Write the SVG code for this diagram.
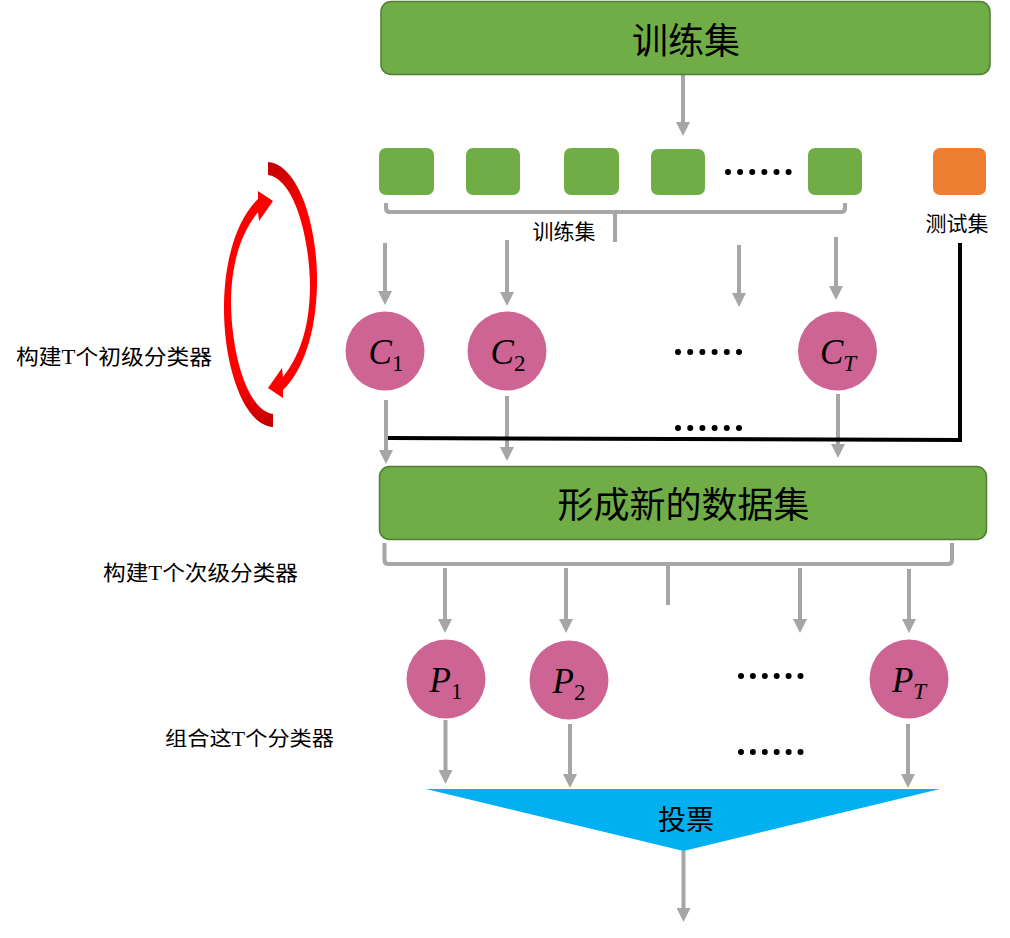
<svg xmlns="http://www.w3.org/2000/svg" width="1010" height="938" viewBox="0 0 1010 938">
<defs>
<style>
.box{fill:#70AD47;stroke:#507E32;stroke-width:1.5}
.sbox{fill:#70AD47}
.circ{fill:#CD6493}
.arr{stroke:#A6A6A6;stroke-width:4;fill:none;marker-end:url(#ah)}
.brk{stroke:#A6A6A6;stroke-width:4;fill:none}
.cjk{font-family:"Noto Sans CJK SC","Microsoft YaHei",sans-serif;fill:#000}
.ser{font-family:"Liberation Serif",serif}
.math{font-family:"Liberation Serif",serif;fill:#000}
.dot{fill:#000}
</style>
<marker id="ah" viewBox="0 0 14 14" refX="4" refY="7" markerWidth="14" markerHeight="14" markerUnits="userSpaceOnUse" orient="auto">
<path d="M0,0 L14,7 L0,14 z" fill="#A6A6A6"/>
</marker>
<linearGradient id="rg1" x1="0" y1="0" x2="0" y2="1">
<stop offset="0" stop-color="#C00000"/>
<stop offset="0.2" stop-color="#FF0000"/>
<stop offset="1" stop-color="#FF0000"/>
</linearGradient>
<linearGradient id="rg2" x1="0" y1="1" x2="0" y2="0">
<stop offset="0" stop-color="#C00000"/>
<stop offset="0.2" stop-color="#FF0000"/>
<stop offset="1" stop-color="#FF0000"/>
</linearGradient>
</defs>
<rect width="1010" height="938" fill="#fff"/>

<g id="connectors">
<line class="arr" x1="683" y1="75" x2="683" y2="126"/>
<path class="brk" d="M386,203 L386,208 Q386,212 390,212 L841,212 Q845,212 845,208 L845,203 M615,212 L615,242"/>
<line class="arr" x1="385" y1="243" x2="385" y2="295"/>
<line class="arr" x1="507" y1="240" x2="507" y2="296"/>
<line class="arr" x1="739" y1="245" x2="739" y2="297"/>
<line class="arr" x1="836" y1="237" x2="836" y2="290"/>
<line class="arr" x1="386" y1="400" x2="386" y2="454"/>
<line class="arr" x1="507" y1="396" x2="507" y2="451"/>
<line class="arr" x1="838" y1="394" x2="838" y2="448"/>
<polyline points="960,243 960,440 388,438" fill="none" stroke="#000" stroke-width="4"/>
<path class="brk" d="M384.5,543 L384.5,560 Q384.5,564 388.5,564 L948,564 Q952,564 952,560 L952,543 M668,564 L668,605"/>
<line class="arr" x1="445" y1="568" x2="445" y2="623"/>
<line class="arr" x1="566" y1="568" x2="566" y2="623"/>
<line class="arr" x1="800" y1="568" x2="800" y2="623"/>
<line class="arr" x1="909" y1="569" x2="909" y2="623"/>
<line class="arr" x1="445.5" y1="720" x2="445.5" y2="774"/>
<line class="arr" x1="570" y1="724" x2="570" y2="778"/>
<line class="arr" x1="908" y1="724" x2="908" y2="778"/>
<line class="arr" x1="683.5" y1="851" x2="683.5" y2="912"/>
</g>

<g id="train-top">
<rect class="box" x="381" y="1.5" width="609" height="73" rx="10"/>
<text class="cjk" x="686" y="54" font-size="36" text-anchor="middle">训练集</text>
</g>

<g id="subsets">
<rect class="sbox" x="379" y="148" width="55" height="47" rx="7"/>
<rect class="sbox" x="466" y="148" width="54" height="47" rx="7"/>
<rect class="sbox" x="564" y="148" width="55" height="47" rx="7"/>
<rect class="sbox" x="651" y="149" width="54" height="46" rx="7"/>
<rect class="sbox" x="808" y="148" width="54" height="47" rx="7"/>
<g class="dot"><circle cx="728" cy="172" r="3"/><circle cx="740.1" cy="172" r="3"/><circle cx="752.2" cy="172" r="3"/><circle cx="764.4" cy="172" r="3"/><circle cx="776.5" cy="172" r="3"/><circle cx="788.6" cy="172" r="3"/></g>
<text class="cjk" x="564" y="239" font-size="21" text-anchor="middle">训练集</text>
</g>

<g id="testset">
<rect x="933" y="148" width="53" height="47" rx="7" fill="#ED7D31"/>
<text class="cjk" x="957" y="231" font-size="21" text-anchor="middle">测试集</text>
</g>

<g id="cycle">
<path fill="url(#rg1)" d="M268,162 C298,164 318,225 317,285 C316,335 302,372 283,390 L283,398 L268,388 L282,368 L283,377 C298,358 310,330 310,285 C309,230 292,178 268,175 Z"/>
<path fill="url(#rg2)" d="M273,427 C243,425 223,364 224,304 C225,254 239,217 258,199 L258,191 L273,201 L259,221 L258,212 C243,231 231,259 231,304 C232,359 249,411 273,414 Z"/>
</g>

<text class="cjk" x="16" y="364" font-size="21" textLength="196" lengthAdjust="spacingAndGlyphs">构建<tspan class="ser">T</tspan>个初级分类器</text>

<g id="C1">
<ellipse class="circ" cx="385" cy="351" rx="39.5" ry="39.5"/>
<text class="math" x="386" y="364" font-size="35" text-anchor="middle"><tspan font-style="italic">C</tspan><tspan font-size="23" dy="7">1</tspan></text>
</g>
<g id="C2">
<ellipse class="circ" cx="507" cy="351" rx="39.5" ry="39.5"/>
<text class="math" x="508" y="364" font-size="35" text-anchor="middle"><tspan font-style="italic">C</tspan><tspan font-size="23" dy="7">2</tspan></text>
</g>
<g id="CT">
<ellipse class="circ" cx="837.5" cy="351" rx="39.5" ry="39.5"/>
<text class="math" x="838" y="364" font-size="35" text-anchor="middle"><tspan font-style="italic">C</tspan><tspan font-size="23" font-style="italic" dy="7">T</tspan></text>
</g>
<g class="dot"><circle cx="678" cy="352" r="3"/><circle cx="690.2" cy="352" r="3"/><circle cx="702.4" cy="352" r="3"/><circle cx="714.6" cy="352" r="3"/><circle cx="726.8" cy="352" r="3"/><circle cx="739" cy="352" r="3"/></g>
<g class="dot"><circle cx="678" cy="428" r="3"/><circle cx="690.2" cy="428" r="3"/><circle cx="702.4" cy="428" r="3"/><circle cx="714.6" cy="428" r="3"/><circle cx="726.8" cy="428" r="3"/><circle cx="739" cy="428" r="3"/></g>

<g id="newdata">
<rect class="box" x="379.5" y="466.5" width="607" height="73" rx="10"/>
<text class="cjk" x="683.5" y="518" font-size="36" text-anchor="middle">形成新的数据集</text>
</g>

<text class="cjk" x="103" y="580" font-size="21" textLength="195" lengthAdjust="spacingAndGlyphs">构建<tspan class="ser">T</tspan>个次级分类器</text>

<g id="P1">
<ellipse class="circ" cx="446" cy="679" rx="39.5" ry="39.5"/>
<text class="math" x="446" y="692" font-size="35" text-anchor="middle"><tspan font-style="italic">P</tspan><tspan font-size="23" dy="7">1</tspan></text>
</g>
<g id="P2">
<ellipse class="circ" cx="569" cy="680" rx="39.5" ry="39.5"/>
<text class="math" x="569" y="693" font-size="35" text-anchor="middle"><tspan font-style="italic">P</tspan><tspan font-size="23" dy="7">2</tspan></text>
</g>
<g id="PT">
<ellipse class="circ" cx="909" cy="679" rx="39.5" ry="39.5"/>
<text class="math" x="909" y="692" font-size="35" text-anchor="middle"><tspan font-style="italic">P</tspan><tspan font-size="23" font-style="italic" dy="7">T</tspan></text>
</g>
<g class="dot"><circle cx="741" cy="676" r="3"/><circle cx="752.9" cy="676" r="3"/><circle cx="764.8" cy="676" r="3"/><circle cx="776.7" cy="676" r="3"/><circle cx="788.6" cy="676" r="3"/><circle cx="800.5" cy="676" r="3"/></g>
<g class="dot"><circle cx="741" cy="752" r="3"/><circle cx="752.9" cy="752" r="3"/><circle cx="764.8" cy="752" r="3"/><circle cx="776.7" cy="752" r="3"/><circle cx="788.6" cy="752" r="3"/><circle cx="800.5" cy="752" r="3"/></g>

<text class="cjk" x="165" y="746" font-size="20" textLength="169" lengthAdjust="spacingAndGlyphs">组合这<tspan class="ser">T</tspan>个分类器</text>

<g id="vote">
<polygon points="426,789 940,789 683.5,851" fill="#00B0F0"/>
<text class="cjk" x="686" y="830" font-size="28" text-anchor="middle">投票</text>
</g>
</svg>
